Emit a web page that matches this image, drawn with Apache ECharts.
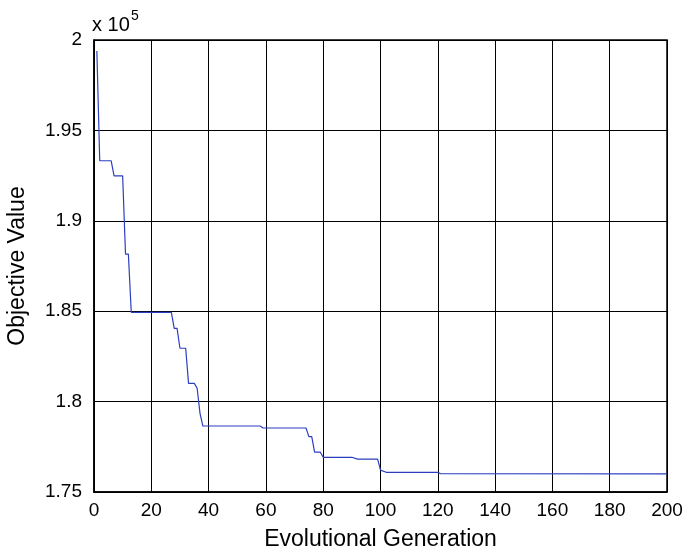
<!DOCTYPE html>
<html>
<head>
<meta charset="utf-8">
<script src="https://cdn.jsdelivr.net/npm/echarts@6/dist/echarts.min.js"></script>
<style>
  html, body { margin: 0; padding: 0; background: #fff; }
  #main { width: 684px; height: 552px; }
</style>
</head>
<body>
<div id="main"></div>
<script>
// 进化代数 / 目标值 (x 10^5)
var generations = [1, 2, 6, 7, 10, 11, 12, 13, 27, 28, 29, 30, 32, 33, 35, 36, 37, 38, 58, 59, 74, 75, 76, 77, 79, 80, 90, 92, 99, 100, 102, 120, 121, 200];
var objValues = [1.9939, 1.9332, 1.9332, 1.9248, 1.9248, 1.8816, 1.8816, 1.8494, 1.8494, 1.8405, 1.8405, 1.8295, 1.8295, 1.8101, 1.8101, 1.8074, 1.7935, 1.7865, 1.7865, 1.7854, 1.7854, 1.7806, 1.7806, 1.7720, 1.7720, 1.7692, 1.7692, 1.7682, 1.7682, 1.7621, 1.7609, 1.7609, 1.7601, 1.7600];

var xTicks = [0, 20, 40, 60, 80, 100, 120, 140, 160, 180, 200];
var yTicks = [1.75, 1.8, 1.85, 1.9, 1.95, 2];

var lineData = [];
for (var i = 0; i < generations.length; i++) {
  lineData.push([generations[i], objValues[i]]);
}

var FONT = 'Liberation Sans, Arial, sans-serif';
var chart = echarts.init(document.getElementById('main'));

var option = {
  backgroundColor: '#fff',
  animation: false,
  // 坐标轴上方的 "x 10^5"
  graphic: [
    {
      type: 'text', left: 92, top: 15,
      style: { text: 'x 10', fontSize: 20, fontFamily: FONT, fill: '#000' }
    },
    {
      type: 'text', left: 131, top: 9,
      style: { text: '5', fontSize: 14, fontFamily: FONT, fill: '#000' }
    }
  ],
  grid: {
    left: 94,
    right: 17,
    top: 40,
    bottom: 60,
    outerBoundsMode: 'none',
    containLabel: false,
    show: true,
    borderColor: '#000',
    borderWidth: 1.5
  },
  xAxis: {
    type: 'value',
    min: xTicks[0],
    max: xTicks[xTicks.length - 1],
    interval: 20,
    name: 'Evolutional Generation',
    nameLocation: 'middle',
    nameGap: 36,
    nameTextStyle: { fontSize: 23, fontFamily: FONT, color: '#000' },
    axisLine: { lineStyle: { color: '#000', width: 1.5 } },
    axisTick: { show: false },
    axisLabel: { fontSize: 19, fontFamily: FONT, color: '#000', margin: 9 },
    splitLine: { show: true, lineStyle: { color: '#000', width: 1 } }
  },
  yAxis: {
    type: 'value',
    min: yTicks[0],
    max: yTicks[yTicks.length - 1],
    interval: 0.05,
    name: 'Objective Value',
    nameLocation: 'middle',
    nameGap: 65,
    nameTextStyle: { fontSize: 23, fontFamily: FONT, color: '#000' },
    axisLine: { show: true, lineStyle: { color: '#000', width: 1.5 } },
    axisTick: { show: false },
    axisLabel: {
      fontSize: 19, fontFamily: FONT, color: '#000', margin: 12,
      formatter: function (v) { return String(+v.toFixed(2)); }
    },
    splitLine: { show: true, lineStyle: { color: '#000', width: 1 } }
  },
  series: [{
    type: 'line',
    data: lineData,
    showSymbol: false,
    lineStyle: { color: '#2b3fc0', width: 1.2 }
  }]
};

chart.setOption(option);
</script>
</body>
</html>
